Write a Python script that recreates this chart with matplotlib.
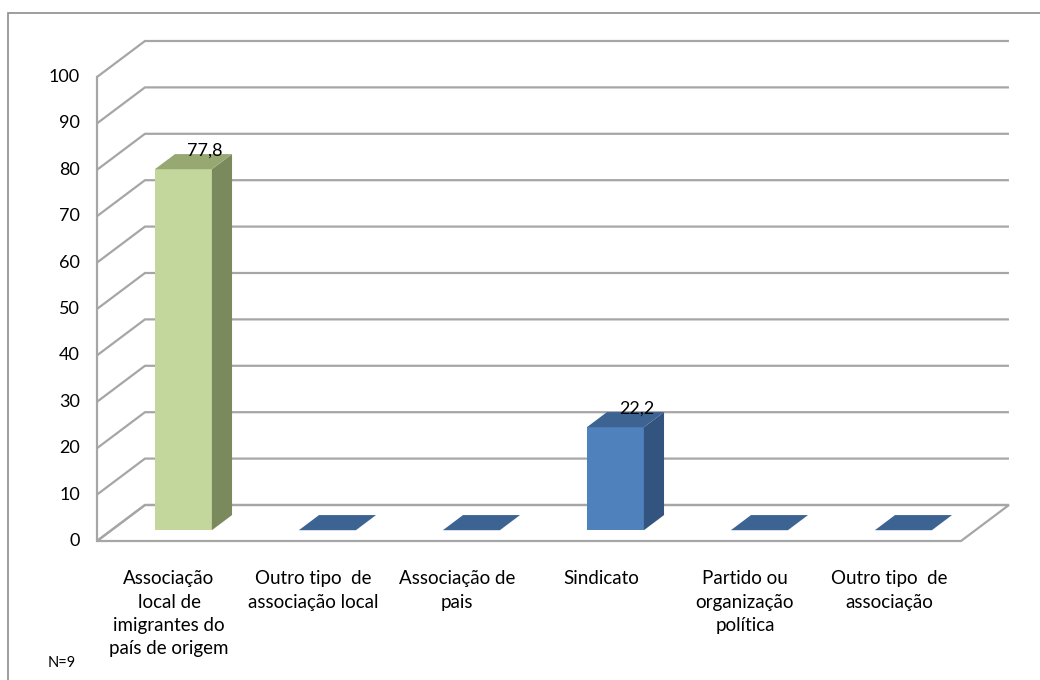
import matplotlib
matplotlib.use("Agg")
import matplotlib.pyplot as plt
from matplotlib.patches import Polygon, Rectangle

plt.rcParams["font.family"] = ["Lato", "DejaVu Sans"]

categories = [
    "Associação\nlocal de\nimigrantes do\npaís de origem",
    "Outro tipo  de\nassociação local",
    "Associação de\npais",
    "Sindicato",
    "Partido ou\norganização\npolítica",
    "Outro tipo  de\nassociação",
]
values = [77.8, 0.0, 0.0, 22.2, 0.0, 0.0]
value_labels = ["77,8", "", "", "22,2", "", ""]
yticks = [0, 10, 20, 30, 40, 50, 60, 70, 80, 90, 100]
note = "N=9"

# 3D look: depth offset of the back wall in data units
DX, DY = 0.333, 7.76
BAR_W = 0.396
D_FRONT, D_BACK = 0.30, 0.72

GREEN = ("#C3D69B", "#7B8A5C", "#98A872")
BLUE = ("#4F81BD", "#32547F", "#3C6392")
GRID = "#A6A6A6"

fig = plt.figure(figsize=(10.4, 6.8), dpi=100)
ax = fig.add_axes([0, 0, 1, 1])
ax.set_xlim(-97 / 144, (1040 - 97) / 144)
ax.set_ylim(-(680 - 541) / 4.64, 541 / 4.64)
ax.axis("off")

n = len(categories)

# outer chart frame
fig.patches.append(Rectangle((8 / 1040, -0.1), 1.2, (680 - 13) / 680 + 0.1,
                             transform=fig.transFigure, fill=False,
                             edgecolor="#8C8C8C", lw=1.2))

# floor
ax.add_patch(Polygon([(0, 0), (n, 0), (n + DX, DY), (DX, DY)], closed=True,
                     facecolor="white", edgecolor=GRID, lw=1.6, zorder=1))

# wall gridlines
for v in yticks:
    ax.plot([0, DX, n + DX], [v, v + DY, v + DY], color=GRID, lw=1.6, zorder=1,
            solid_capstyle="butt")
    ax.text(-17 / 144, v, str(v), ha="right", va="center", fontsize=13,
            color="black")
ax.plot([0, 0], [0, yticks[-1]], color=GRID, lw=1.6, zorder=1)

for i, (val, lab) in enumerate(zip(values, value_labels)):
    front, side, top = GREEN if i == 0 else BLUE
    cx = i + 0.5
    x0 = cx - BAR_W / 2 + D_FRONT * DX
    x1 = cx + BAR_W / 2 + D_FRONT * DX
    y0 = D_FRONT * DY
    ddx = (D_BACK - D_FRONT) * DX
    ddy = (D_BACK - D_FRONT) * DY
    if val > 0:
        y1 = y0 + val
        ax.add_patch(Polygon([(x0, y0), (x1, y0), (x1, y1), (x0, y1)],
                             facecolor=front, edgecolor="none", zorder=3))
        ax.add_patch(Polygon([(x1, y0), (x1 + ddx, y0 + ddy), (x1 + ddx, y1 + ddy), (x1, y1)],
                             facecolor=side, edgecolor="none", zorder=3))
        ax.add_patch(Polygon([(x0, y1), (x1, y1), (x1 + ddx, y1 + ddy), (x0 + ddx, y1 + ddy)],
                             facecolor=top, edgecolor="none", zorder=3))
        ax.text(x1 - 0.05, y1 + ddy - 0.9, lab, ha="center", va="bottom",
                fontsize=13, zorder=4)
    else:
        ax.add_patch(Polygon([(x0, y0), (x1, y0), (x1 + ddx, y0 + ddy), (x0 + ddx, y0 + ddy)],
                             facecolor=top, edgecolor="none", zorder=3))

    ax.text(cx, -6.3, categories[i], ha="center", va="top", fontsize=13.5,
            linespacing=1.45)

ax.text(48 / 144 - 97 / 144, -(663 - 541) / 4.64, note, ha="left", va="center",
        fontsize=10.5)

fig.savefig("out.png", dpi=100)
